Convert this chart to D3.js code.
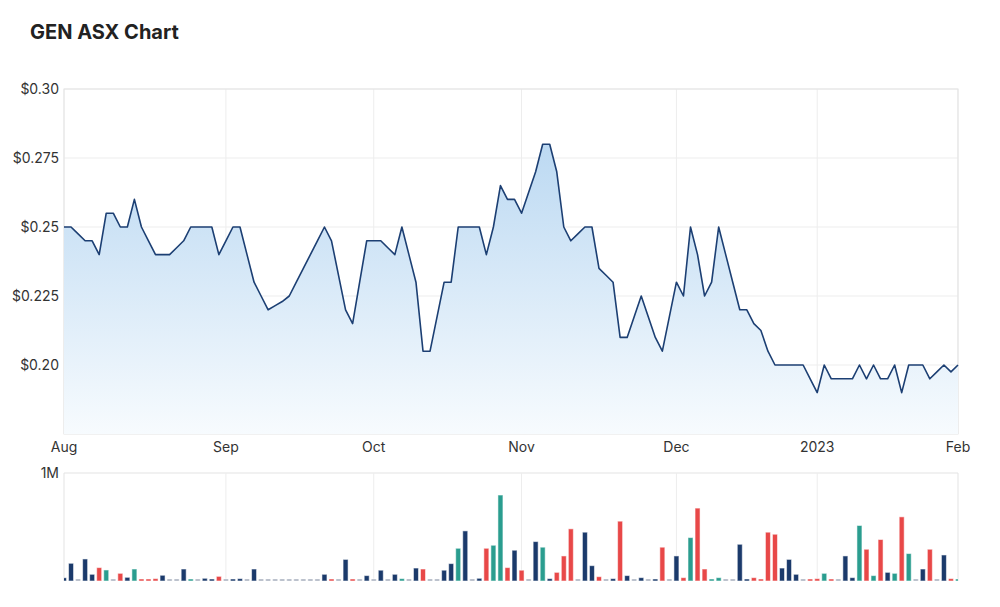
<!DOCTYPE html>
<html>
<head>
<meta charset="utf-8">
<script src="https://cdn.jsdelivr.net/npm/d3@7"></script>
<style>
  body { margin: 0; background: #fff; }
  svg { display: block; font-family: Inter, "Noto Sans", sans-serif; }
</style>
</head>
<body>
<div id="chart"></div>
<script>
// trading days: Aug 1 2022 .. Feb 1 2023, weekdays minus ASX holidays
var firstDay = "2022-08-01", lastDay = "2023-02-01";
var holidays = ["2022-09-22", "2022-12-26", "2022-12-27", "2023-01-02", "2023-01-26"];

// month tick labels
var monthLabels = ["Aug", "Sep", "Oct", "Nov", "Dec", "2023", "Feb"];

// close price, one per trading day
var closes = [
  0.25, 0.25, 0.2475, 0.245, 0.245, 0.24, 0.255, 0.255, 0.25, 0.25,
  0.26, 0.25, 0.245, 0.24, 0.24, 0.24, 0.2425, 0.245, 0.25, 0.25,
  0.25, 0.25, 0.24, 0.245, 0.25, 0.25, 0.24, 0.23, 0.225, 0.22,
  0.2215, 0.223, 0.225, 0.23, 0.235, 0.24, 0.245, 0.25, 0.245, 0.2325,
  0.22, 0.215, 0.23, 0.245, 0.245, 0.245, 0.2425, 0.24, 0.25, 0.24,
  0.23, 0.205, 0.205, 0.2175, 0.23, 0.23, 0.25, 0.25, 0.25, 0.25,
  0.24, 0.25, 0.265, 0.26, 0.26, 0.255, 0.2625, 0.27, 0.28, 0.28,
  0.27, 0.25, 0.245, 0.2475, 0.25, 0.25, 0.235, 0.2325, 0.23, 0.21,
  0.21, 0.2175, 0.225, 0.2175, 0.21, 0.205, 0.2175, 0.23, 0.225, 0.25,
  0.24, 0.225, 0.23, 0.25, 0.24, 0.23, 0.22, 0.22, 0.215, 0.2125,
  0.205, 0.20, 0.20, 0.20, 0.20, 0.20, 0.195, 0.19, 0.20, 0.195,
  0.195, 0.195, 0.195, 0.20, 0.195, 0.20, 0.195, 0.195, 0.20, 0.19,
  0.20, 0.20, 0.20, 0.195, 0.1975, 0.20, 0.1975, 0.20
];

// volume in millions of shares
var volumes = [
  0.03, 0.164, 0, 0.204, 0.062, 0.124, 0.102, 0, 0.071, 0.034,
  0.111, 0.015, 0.015, 0.022, 0.053, 0, 0, 0.111, 0.004, 0,
  0.025, 0.015, 0.043, 0, 0.012, 0.022, 0, 0.111, 0, 0,
  0, 0, 0, 0, 0, 0, 0, 0.062, 0.015, 0,
  0.20, 0.008, 0, 0.05, 0, 0.10, 0, 0.062, 0.022, 0,
  0.12, 0.111, 0, 0, 0.10, 0.161, 0.303, 0.464, 0, 0.025,
  0.303, 0.331, 0.796, 0.124, 0.285, 0.10, 0, 0.365, 0.313, 0.022,
  0.08, 0.232, 0.483, 0, 0.452, 0.142, 0.04, 0, 0.022, 0.554,
  0.05, 0, 0.031, 0, 0.012, 0.313, 0, 0.232, 0.031, 0.402,
  0.675, 0.111, 0.004, 0.031, 0, 0, 0.34, 0.01, 0.031, 0.012,
  0.452, 0.433, 0.12, 0.20, 0.062, 0, 0.012, 0.022, 0.071, 0.004,
  0, 0.232, 0.031, 0.514, 0.294, 0.05, 0.384, 0.08, 0.071, 0.594,
  0.254, 0, 0.111, 0.294, 0, 0.241, 0.022, 0.012
];

// bar colour per day: u = up, d = down, n = flat, z = no trades
var volDir = [
  "nnznnduzdn",
  "udddnzznuz",
  "nndznnznzz",
  "zzzzzzzndz",
  "ndznznznuz",
  "ndzznnunzn",
  "duudndznun",
  "dddznndznd",
  "nznzndzndu",
  "dduuzznndd",
  "ddnnnzddud",
  "znnududnud",
  "uzndzndu"
].join("").split("");

var priceTicks = [0.20, 0.225, 0.25, 0.275, 0.30];

// ---------------------------------------------------------------
var W = 1000, H = 607;
var left = 64, right = 958;
var pTop = 89, pBot = 434;
var vTop = 473, vBot = 581;

var parse = d3.timeParse("%Y-%m-%d"), fmtDay = d3.timeFormat("%Y-%m-%d");
var days = d3.timeDay.range(parse(firstDay), d3.timeDay.offset(parse(lastDay), 1))
  .filter(d => d.getDay() != 0 && d.getDay() != 6 && holidays.indexOf(fmtDay(d)) < 0);

var x = d3.scaleLinear().domain([0, days.length - 1]).range([left, right]);
var y = d3.scaleLinear().domain([0.175, 0.30]).range([pBot, pTop]);
var yv = d3.scaleLinear().domain([0, 1]).range([vBot, vTop]);

// index of the first trading day of each month
var monthIdx = [];
days.forEach((d, i) => {
  if (i == 0 || d.getMonth() != days[i - 1].getMonth()) monthIdx.push(i);
});

var svg = d3.select("#chart").append("svg").attr("width", W).attr("height", H);

svg.append("text")
  .attr("x", 30).attr("y", 39)
  .style("font-size", "20px").style("font-weight", 700).style("fill", "#222")
  .text("GEN ASX Chart");

var grid = "#ededed";

// price panel grid
svg.append("g").selectAll("line").data(priceTicks).enter().append("line")
  .attr("x1", left).attr("x2", right)
  .attr("y1", d => y(d)).attr("y2", d => y(d))
  .style("stroke", grid);
svg.append("g").selectAll("line").data(monthIdx).enter().append("line")
  .attr("x1", d => x(d)).attr("x2", d => x(d))
  .attr("y1", pTop).attr("y2", pBot)
  .style("stroke", grid);
svg.append("rect")
  .attr("x", left).attr("y", pTop).attr("width", right - left).attr("height", pBot - pTop)
  .style("fill", "none").style("stroke", "#e3e3e3");

// area fill
var grad = svg.append("defs").append("linearGradient")
  .attr("id", "pg").attr("gradientUnits", "userSpaceOnUse")
  .attr("x1", 0).attr("x2", 0).attr("y1", y(0.28)).attr("y2", pBot);
grad.append("stop").attr("offset", 0).attr("stop-color", "#bcd9f2");
grad.append("stop").attr("offset", 1).attr("stop-color", "#f7fbfe");

var area = d3.area().x((d, i) => x(i)).y0(pBot).y1(d => y(d));
var line = d3.line().x((d, i) => x(i)).y(d => y(d));

svg.append("path").attr("d", area(closes)).style("fill", "url(#pg)");
svg.append("path").attr("d", line(closes))
  .style("fill", "none").style("stroke", "#1c3f73").style("stroke-width", 1.6)
  .style("stroke-linejoin", "round");

// y labels
svg.append("g").selectAll("text").data(priceTicks).enter().append("text")
  .attr("x", 59).attr("y", d => y(d)).attr("dy", "0.35em")
  .attr("text-anchor", "end")
  .style("font-size", "14px").style("fill", "#333")
  .text(d => "$" + (d * 1000 % 10 == 0 ? d3.format(".2f")(d) : d3.format(".3f")(d)));

// x labels
svg.append("g").selectAll("text").data(monthIdx).enter().append("text")
  .attr("x", d => x(d)).attr("y", 452)
  .attr("text-anchor", "middle")
  .style("font-size", "14px").style("fill", "#333")
  .text((d, i) => monthLabels[i]);

// volume panel
svg.append("line").attr("x1", left).attr("x2", right).attr("y1", vTop).attr("y2", vTop)
  .style("stroke", "#e3e3e3");
svg.append("line").attr("x1", left).attr("x2", left).attr("y1", vTop).attr("y2", vBot)
  .style("stroke", "#e3e3e3");
svg.append("line").attr("x1", right).attr("x2", right).attr("y1", vTop).attr("y2", vBot)
  .style("stroke", "#e3e3e3");
svg.append("g").selectAll("line").data(monthIdx.slice(1, -1)).enter().append("line")
  .attr("x1", d => x(d)).attr("x2", d => x(d))
  .attr("y1", vTop).attr("y2", vBot)
  .style("stroke", grid);

svg.append("text")
  .attr("x", 59).attr("y", vTop).attr("dy", "0.35em").attr("text-anchor", "end")
  .style("font-size", "14px").style("fill", "#333")
  .text("1M");

var colors = { u: "#2a9d8f", d: "#e84848", n: "#1b3a6b", z: "#a3abbb" };
var bw = 5;

svg.append("defs").append("clipPath").attr("id", "vc")
  .append("rect").attr("x", left).attr("y", vTop).attr("width", right - left).attr("height", vBot - vTop + 2);

svg.append("g").attr("clip-path", "url(#vc)")
  .selectAll("rect").data(volumes).enter().append("rect")
  .attr("x", (d, i) => x(i) - bw / 2)
  .attr("width", bw)
  .attr("y", d => Math.min(yv(d), vBot - 2))
  .attr("height", d => Math.max(vBot - yv(d), 2))
  .style("fill", (d, i) => d == 0 ? colors.z : colors[volDir[i]])
  .style("stroke", "rgba(255,255,255,0.55)")
  .style("stroke-width", 1);
</script>
</body>
</html>
